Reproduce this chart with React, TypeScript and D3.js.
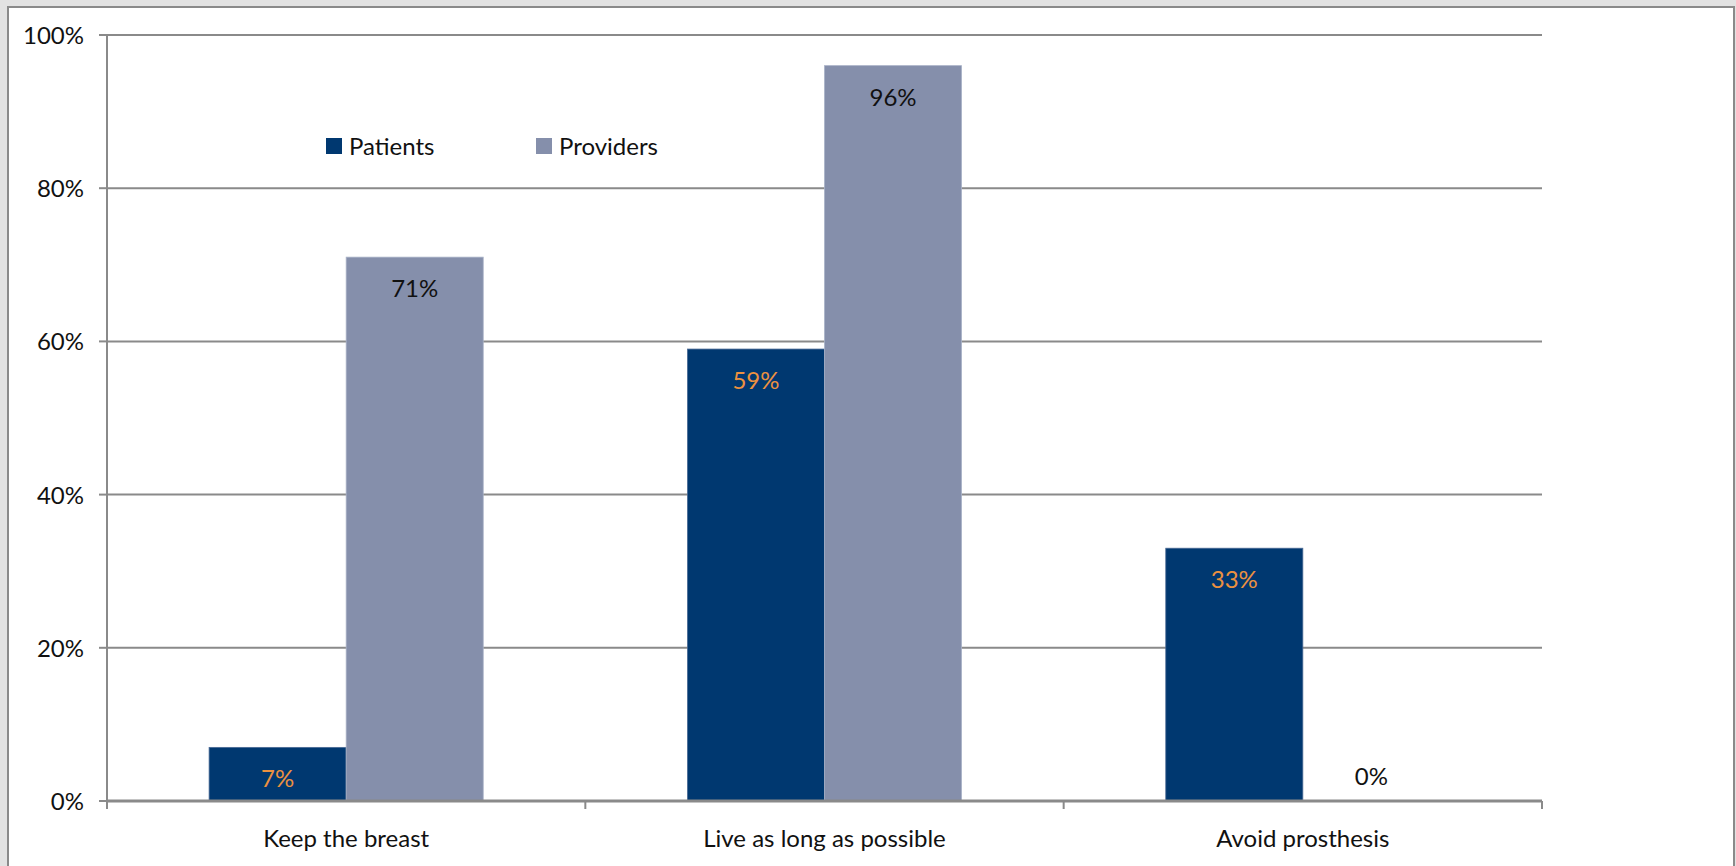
import React from 'react';
import * as d3 from 'd3';

// chart data
const categories = ['Keep the breast', 'Live as long as possible', 'Avoid prosthesis'];
const seriesNames = ['Patients', 'Providers'];
const patients = [0.07, 0.59, 0.33];
const providers = [0.71, 0.96, 0];
const yTicks = [0, 0.2, 0.4, 0.6, 0.8, 1];

const WIDTH = 1736;
const HEIGHT = 866;
const FONT = 'Lato, "Open Sans", sans-serif';
const FONT_SIZE = 24;
const COLORS = ['#003870', '#858fab'];
const LABEL_COLORS = ['#ec9140', '#111111'];

const App: React.FC = () => {
  const margin = { left: 107, right: 194, top: 35, bottom: 65 };
  const x = d3.scaleBand<string>()
    .domain(categories)
    .range([margin.left, WIDTH - margin.right])
    .padding(0);
  const xInner = d3.scaleBand<string>()
    .domain(seriesNames)
    .range([0, x.bandwidth()])
    .paddingInner(0)
    .paddingOuter(0.745);
  const y = d3.scaleLinear().domain([0, 1]).range([HEIGHT - margin.bottom, margin.top]);
  const pct = d3.format('.0%');

  const series = [patients, providers];
  const x0 = margin.left;
  const x1 = WIDTH - margin.right;
  const boundaries = [...categories.map(c => x(c) as number), x1];

  return (
    <svg
      width={WIDTH}
      height={HEIGHT}
      style={{ position: 'fixed', left: 0, top: 0, display: 'block' }}
      fontFamily={FONT}
    >
      {/* page frame */}
      <rect x={0} y={0} width={WIDTH} height={HEIGHT} fill="#e2e2e2" />
      <rect x={8} y={7} width={WIDTH - 10} height={HEIGHT} fill="#ffffff" stroke="#8a8a8a" strokeWidth={2} />

      {/* gridlines */}
      {yTicks.filter(t => t > 0).map(t => (
        <line key={t} x1={x0} x2={x1} y1={y(t)} y2={y(t)} stroke="#8a8a8a" strokeWidth={2} />
      ))}

      {/* bars */}
      {series.map((vals, si) =>
        categories.map((c, ci) => {
          const bx = (x(c) as number) + (xInner(seriesNames[si]) as number);
          const h = y(0) - y(vals[ci]);
          return h > 0 ? (
            <rect
              key={`${si}-${ci}`}
              x={bx}
              y={y(vals[ci])}
              width={xInner.bandwidth()}
              height={h}
              fill={COLORS[si]}
              stroke={si === 0 ? '#4a6a95' : '#a9b2c7'}
              strokeWidth={0.8}
            />
          ) : null;
        })
      )}

      {/* value labels */}
      {series.map((vals, si) =>
        categories.map((c, ci) => {
          const cx = (x(c) as number) + (xInner(seriesNames[si]) as number) + xInner.bandwidth() / 2;
          const v = vals[ci];
          const ty = v > 0 ? y(v) + 40 : y(0) - 16;
          return (
            <text key={`l${si}-${ci}`} x={cx} y={ty} textAnchor="middle" fontSize={FONT_SIZE} fill={LABEL_COLORS[si]}>
              {pct(v)}
            </text>
          );
        })
      )}

      {/* y axis */}
      <line x1={x0} x2={x0} y1={y(1) - 1} y2={y(0) + 1} stroke="#8a8a8a" strokeWidth={2} />
      {yTicks.map(t => (
        <g key={`yt${t}`}>
          <line x1={x0 - 8} x2={x0} y1={y(t)} y2={y(t)} stroke="#8a8a8a" strokeWidth={2} />
          <text x={84} y={y(t) + 9} textAnchor="end" fontSize={FONT_SIZE} fill="#111111">
            {pct(t)}
          </text>
        </g>
      ))}

      {/* x axis */}
      <line x1={x0} x2={x1} y1={y(0)} y2={y(0)} stroke="#8a8a8a" strokeWidth={3} />
      {boundaries.map((bx, i) => (
        <line key={`xt${i}`} x1={bx} x2={bx} y1={y(0)} y2={y(0) + 8} stroke="#8a8a8a" strokeWidth={2} />
      ))}
      {categories.map(c => (
        <text
          key={c}
          x={(x(c) as number) + x.bandwidth() / 2}
          y={847}
          textAnchor="middle"
          fontSize={FONT_SIZE}
          fill="#111111"
        >
          {c}
        </text>
      ))}

      {/* legend */}
      {seriesNames.map((s, i) => {
        const lx = [326, 536][i];
        return (
          <g key={s}>
            <rect x={lx} y={138} width={16} height={16} fill={COLORS[i]} />
            <text x={lx + 23} y={155} fontSize={FONT_SIZE} fill="#111111">
              {s}
            </text>
          </g>
        );
      })}
    </svg>
  );
};

export default App;
